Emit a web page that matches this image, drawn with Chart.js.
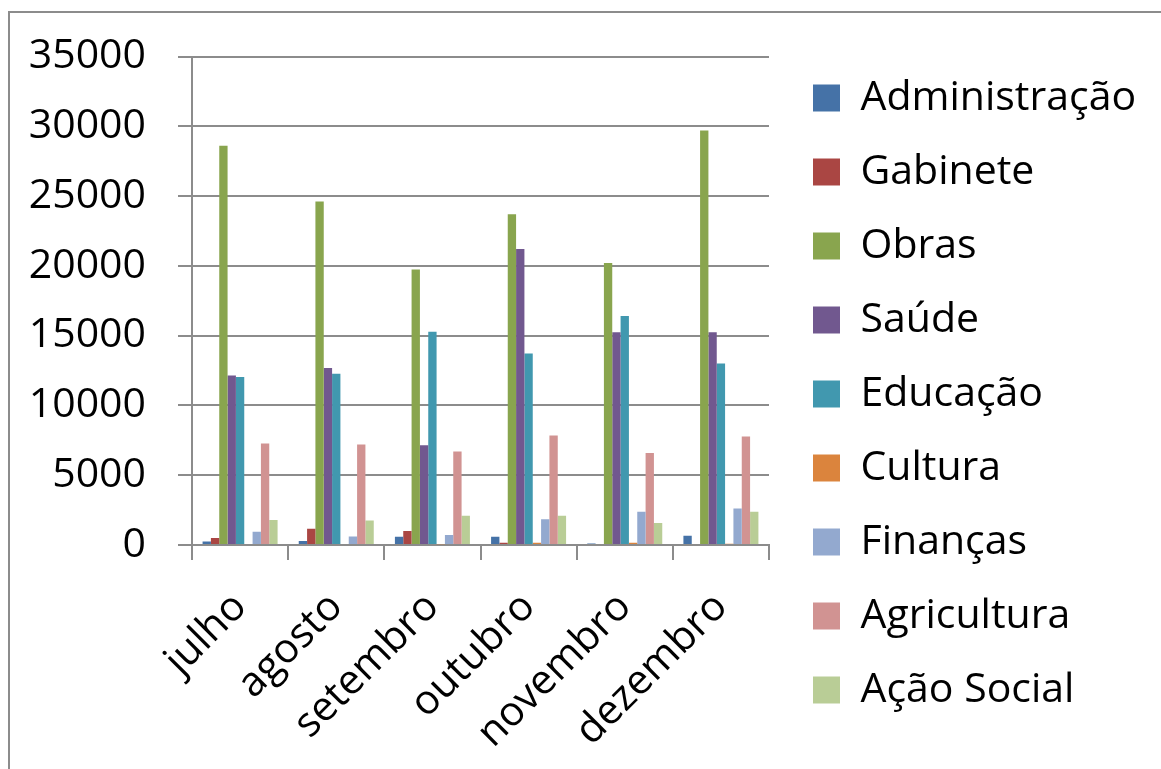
<!DOCTYPE html>
<html><head><meta charset="utf-8">
<script src="https://cdn.jsdelivr.net/npm/chart.js@4/dist/chart.umd.min.js"></script>
<style>
html,body{margin:0;padding:0;background:#fff;overflow:hidden}
#wrap{position:relative;width:1161px;height:769px}
#frame{position:absolute;left:8px;top:11px;width:1200px;height:800px;border:2px solid #8c8c8c;pointer-events:none;box-sizing:border-box}
canvas{position:absolute;left:0;top:0}
</style></head>
<body><div id="wrap"><canvas id="c" width="1161" height="769"></canvas><div id="frame"></div></div>
<script>
const months = ['julho','agosto','setembro','outubro','novembro','dezembro'];
const administracao = [250, 285, 590, 590, 100, 665];
const gabinete      = [500, 1160, 1000, 165, 0, 0];
const obras         = [28620, 24610, 19740, 23700, 20210, 29700];
const saude         = [12140, 12690, 7150, 21210, 15250, 15250];
const educacao      = [12040, 12280, 15275, 13730, 16415, 13015];
const cultura       = [0, 0, 50, 165, 165, 95];
const financas      = [950, 615, 710, 1850, 2375, 2610];
const agricultura   = [7270, 7200, 6700, 7840, 6600, 7770];
const acaoSocial    = [1800, 1755, 2090, 2090, 1570, 2375];
const yTicks = [0, 5000, 10000, 15000, 20000, 25000, 30000, 35000];

const series = [
  ['Administração', administracao, '#4572A7'],
  ['Gabinete', gabinete, '#AA4643'],
  ['Obras', obras, '#89A54E'],
  ['Saúde', saude, '#71588F'],
  ['Educação', educacao, '#4198AF'],
  ['Cultura', cultura, '#DB843D'],
  ['Finanças', financas, '#93A9CF'],
  ['Agricultura', agricultura, '#D19392'],
  ['Ação Social', acaoSocial, '#B9CD96']
];

const FONT = {family: '"Open Sans", Lato, sans-serif', size: 41};
const GRID = '#8c8c8c';

const legendWidthPlugin = {
  id: 'legendWidth',
  beforeLayout(chart) {
    const lg = chart.legend;
    if (lg && !lg._patched) {
      const orig = lg.fit.bind(lg);
      lg.fit = function () { orig(); this.width = 381; };
      lg._patched = true;
    }
  }
};

new Chart(document.getElementById('c'), {
  type: 'bar',
  data: {
    labels: months,
    datasets: series.map(([label, data, color]) => ({
      label, data, backgroundColor: color, borderWidth: 0,
      categoryPercentage: 0.78, barPercentage: 1.0
    }))
  },
  options: {
    responsive: false,
    animation: false,
    layout: {padding: {top: 19, left: 0, right: 0, bottom: 0}},
    plugins: {
      tooltip: {enabled: false},
      legend: {
        position: 'right',
        align: 'center',
        labels: {boxWidth: 27, boxHeight: 27, padding: 33, font: FONT, color: '#000'}
      }
    },
    scales: {
      x: {
        grid: {offset: true, drawOnChartArea: false, drawTicks: true, tickLength: 15, color: GRID, lineWidth: 2},
        border: {color: GRID, width: 2},
        ticks: {font: FONT, color: '#000', maxRotation: 45, minRotation: 45, autoSkip: false, padding: 23},
        afterFit: s => { s.height = 224; }
      },
      xTop: {
        type: 'category', position: 'top', display: true,
        grid: {display: false}, ticks: {display: false}, border: {display: false},
        afterFit: s => { s.height = 35; }
      },
      y: {
        min: 0, max: 35000,
        afterBuildTicks: s => { s.ticks = yTicks.map(v => ({value: v})); },
        ticks: {font: FONT, color: '#000', padding: 32, callback: v => String(v)},
        grid: {color: GRID, lineWidth: 2, tickLength: 14},
        border: {color: GRID, width: 2},
        afterFit: s => { s.width = 192; }
      },
      y2: {
        position: 'right', display: true,
        grid: {display: false}, ticks: {display: false}, border: {display: false},
        afterFit: s => { s.width = 11; }
      }
    }
  },
  plugins: [legendWidthPlugin]
});
</script>
</body></html>
